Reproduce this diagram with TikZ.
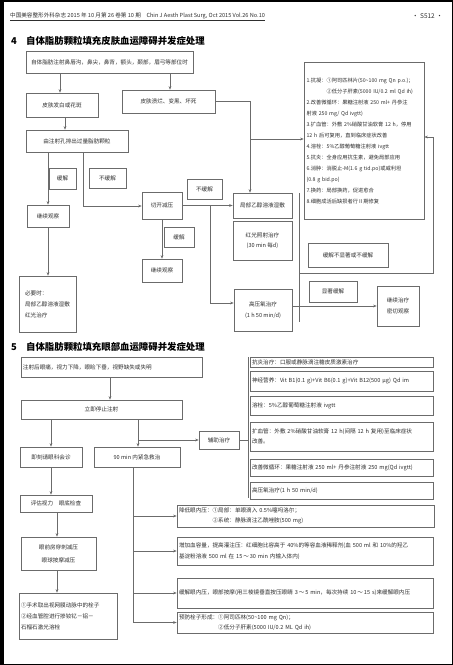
\documentclass[tikz,border=0pt]{standalone}
\usepackage{fontspec}
\setmainfont{Noto Sans CJK SC}
\usetikzlibrary{arrows.meta,calc}
\definecolor{lncol}{gray}{0.42}
\definecolor{tx}{gray}{0.18}
\tikzset{
 box/.style={draw=lncol, line width=0.6pt, inner xsep=2pt, inner ysep=1pt, text=tx,
   font=\fontsize{5.6}{10.5}\selectfont, align=center},
 lbox/.style={box, align=left},
 arr/.style={draw=lncol, line width=0.5pt, -{Stealth[length=3.5pt,width=2.6pt]}},
 conn/.style={draw=lncol, line width=0.5pt},
 sectitle/.style={font=\fontsize{9.4}{10}\selectfont\bfseries, text=black, anchor=west, inner sep=0pt},
}
\newcommand\bx[7][]{\node[box,minimum width={(#5-#3)*1pt},minimum height={(#6-#4)*1pt},#1] (#2) at ({(#3+#5)/2},{(#4+#6)/2}) {#7};}
\begin{document}
\begin{tikzpicture}[x=1pt,y=-1pt]
\useasboundingbox (0,0) rectangle (453,665);
\fill[white] (0,0) rectangle (453,665);
% frame
\fill[black] (0,0) rectangle (4,665);
\fill[black] (0,0) rectangle (453,1.5);
\fill[black] (0,663.5) rectangle (453,665);
\fill[black] (451.8,0) rectangle (453,665);
% header
\node[anchor=west, inner sep=0pt, font=\fontsize{5.6}{6}\selectfont, text=tx] (hdr) at (10,16) {中国美容整形外科杂志 2015 年 10 月第 26 卷第 10 期\quad Chin J Aesth Plast Surg, Oct 2015 Vol.26 No.10};
\draw[line width=0.4pt, tx] (hdr.south west) ++(0,1) -- ($(hdr.south east)+(0,1)$);
\node[anchor=east, inner sep=0pt, font=\fontsize{6.5}{7}\selectfont, text=tx] (pg) at (443,16) {· S512 ·};
% ===== section 4 =====
\node[sectitle] (n4) at (11,41) {4};
\node[sectitle] (t4) at (26,41) {自体脂肪颗粒填充皮肤血运障碍并发症处理};
\bx{A}{26}{51}{193}{73}{自体脂肪注射鼻唇沟，鼻尖，鼻背，额头，颞部，眉弓等部位时}
\bx{B}{26}{93}{98}{117}{皮肤发白或花斑}
\bx{C}{122}{90}{215}{113}{皮肤溃烂、变黑、坏死}
\bx{E}{26}{130}{128}{152}{由注射孔排出过量脂肪颗粒}
\bx{la1}{49}{168}{76}{189}{缓解}
\bx{la2}{89}{168}{126}{188}{不缓解}
\bx{F}{27}{205}{69}{227}{继续观察}
\bx[lbox, font=\fontsize{5.6}{11}\selectfont]{G}{19}{276}{76}{332}{必要时：\\局部乙醇溶液湿敷\\红光治疗}
\bx{H}{142}{192}{182}{219}{切开减压}
\bx{la3}{164}{227}{194}{247}{缓解}
\bx{I}{142}{259}{182}{282}{继续观察}
\bx{la4}{187}{179}{222}{199}{不缓解}
\bx{J}{233}{193}{292}{218}{局部乙醇溶液湿敷}
\bx{L}{233}{221}{292}{260}{红光照射治疗\\(30 min 每d)}
\bx{K}{234}{289}{292}{331}{高压氧治疗\\(1 h 50 min/d)}
\bx[lbox, inner xsep=2.5pt, text width=115pt, font=\fontsize{5.25}{11}\selectfont]{D}{304}{62}{424}{219}{1.抗凝：①阿司匹林片(50\textasciitilde 100 mg Qn p.o.)；\\\phantom{1.抗凝：}②低分子肝素(5000 IU/0.2 ml Qd ih)\\2.改善微循环：果糖注射液 250 ml+ 丹参注\\射液 250 mg/ Qd ivgtt)\\3.扩血管：外敷 2\%硝酸甘油软膏 12 h，停用\\12 h 后可复用，直到临床症状改善\\4.溶栓：5\%乙醇葡萄糖注射液 ivgtt\\5.抗炎：全身应用抗生素，避免局部应用\\6.消肿：消脱止-M(1.6 g tid.po)或威利坦\\(0.8 g bid.po)\\7.换药：局部换药，促进愈合\\8.细胞成活后缺损者行Ⅱ期修复}
\bx{la5}{308}{243}{388}{267}{缓解不显著或不缓解}
\bx{la6}{309}{281}{357}{302}{显著缓解}
\bx{M}{377}{286}{419}{326}{继续治疗\\密切观察}
% connectors section 4
\coordinate (v1) at (60,0);
\coordinate (v2) at (170,0);
\coordinate (v3) at (65,0);
\coordinate (v4) at (48,0);
\coordinate (v5) at (83,206);
\coordinate (v6) at (162,0);
\coordinate (b1) at (210,205.5);
\coordinate (b2) at (210,303);
\coordinate (c1) at (250,0);
\coordinate (c2) at (250,139);
\coordinate (br1) at (299,193);
\coordinate (br2) at (299,322);
\coordinate (lp) at (299,273);
\coordinate (lp2) at (433,137);
\draw[arr] (A.south -| v1) -- (B.north -| v1);
\draw[arr] (A.south -| v2) -- (C.north -| v2);
\draw[arr] (B.south -| v3) -- (E.north -| v3);
\draw[arr] (E.south -| v4) -- (F.north -| v4);
\draw[arr] (F.south -| v4) -- (G.north -| v4);
\draw[arr] (E.south -| v5) -- (v5) -- (H.west |- v5);
\draw[arr] (H.south -| v6) -- (I.north -| v6);
\draw[arr] (H.east) -- (J.west);
\draw[arr] (b1) -- (b2) -- (K.west |- b2);
\draw[arr] (C.east) -- (C.east -| c1) -- (J.north -| c1);
\draw[arr] (c2) -- (D.west |- c2);
\draw[arr] (K.east |- M.west) -- (M.west);
\draw[conn] (br1) -- (br2);
\draw[arr] (lp) -| (lp2) -- (D.east |- lp2);
% ===== section 5 =====
\node[sectitle] (n5) at (11,347) {5};
\node[sectitle] (t5) at (26,347) {自体脂肪颗粒填充眼部血运障碍并发症处理};
\bx[lbox, text width=177pt]{N}{21}{357}{202}{377}{注射后眼痛，视力下降，眼睑下垂，视野缺失或失明}
\bx{O}{21}{400}{182}{419}{立即停止注射}
\bx[lbox, text width=179pt]{P}{250}{357}{433}{367}{抗炎治疗：口服或静脉滴注糖皮质激素治疗}
\bx[lbox, text width=179pt]{Q}{250}{371}{433}{391}{神经营养：Vit B1(0.1 g)+Vit B6(0.1 g)+Vit B12(500 μg) Qd im}
\bx[lbox, text width=179pt]{R}{250}{396}{433}{415}{溶栓：5\%乙醇葡萄糖注射液 ivgtt}
\bx[lbox, text width=179pt]{S}{250}{422}{433}{451}{扩血管：外敷 2\%硝酸甘油软膏 12 h(间隔 12 h 复用)至临床症状\\改善。}
\bx[lbox, text width=179pt]{T}{250}{459}{433}{476}{改善微循环：果糖注射液 250 ml+ 丹参注射液 250 mg(Qd ivgtt)}
\bx[lbox, text width=179pt]{U}{250}{482}{433}{499}{高压氧治疗(1 h 50 min/d)}
\bx{V}{199}{431}{239}{449}{辅助治疗}
\bx{X}{20}{447}{82}{467}{即刻请眼科会诊}
\bx{W}{94}{447}{180}{467}{90 min 内紧急救治}
\bx{Y}{20}{495}{92}{512}{评估视力\quad 眼底检查}
\bx[font=\fontsize{5.6}{13}\selectfont]{Z}{21}{537}{96}{570}{眼前房穿刺减压\\眼球按摩减压}
\bx[lbox, text width=94pt, font=\fontsize{5.6}{11}\selectfont]{AA}{19}{593}{117}{639}{①手术取出视网膜动脉中的栓子\\②经血管腔进行掺钕钇－铝－\\石榴石激光溶栓}
\bx[lbox, text width=253pt]{BB}{177}{505}{434}{527}{降低眼内压：①局部：单眼滴入 0.5\%噻吗洛尔；\\\phantom{降低眼内压：}②系统：静脉滴注乙酰唑胺(500 mg)}
\bx[lbox, text width=252pt]{CC}{177}{537}{433}{565}{增加血容量，提高灌注压：红细胞比容高于 40\%的等容血液稀释剂(血 500 ml 和 10\%的羟乙\\基淀粉溶液 500 ml 在 15\,～\,30 min 内输入体内)}
\bx[lbox, text width=252pt]{DD}{177}{578}{433}{608}{缓解眼内压，眼部按摩(用三棱镜垂直按压眼睛 3\,～\,5 min，每次持续 10\,～\,15 s)来缓解眼内压}
\bx[lbox, text width=252pt]{EE}{177}{612}{433}{633}{预防栓子形成：①阿司匹林(50\textasciitilde 100 mg Qn)；\\\phantom{预防栓子形成：}②低分子肝素(5000 IU/0.2 ML Qd ih)}
% connectors section 5
\coordinate (s1) at (110,0);
\coordinate (s2) at (51,0);
\coordinate (s3) at (57,0);
\coordinate (s4) at (138,440);
\coordinate (t1) at (248,357);
\coordinate (t2) at (248,498);
\coordinate (w1) at (133,0);
\draw[arr] (N.south -| s1) -- (O.north -| s1);
\draw[arr] (O.south -| s2) -- (X.north -| s2);
\draw[arr] (X.south -| s2) -- (Y.north -| s2);
\draw[arr] (Y.south -| s3) -- (Z.north -| s3);
\draw[arr] (Z.south -| s3) -- (AA.north -| s3);
\draw[arr] (O.south -| s4) -- (W.north -| s4);
\draw[arr] (s4 |- V.west) -- (V.west);
\draw[conn] (t1) -- (t2);
\draw[conn] (V.east) -- (V.east -| t1);
\draw[conn] (W.south -| w1) -- (w1 |- EE.west);
\draw[arr] (w1 |- BB.west) -- (BB.west);
\draw[arr] (w1 |- CC.west) -- (CC.west);
\draw[arr] (w1 |- DD.west) -- (DD.west);
\draw[arr] (w1 |- EE.west) -- (EE.west);
\end{tikzpicture}
\end{document}
